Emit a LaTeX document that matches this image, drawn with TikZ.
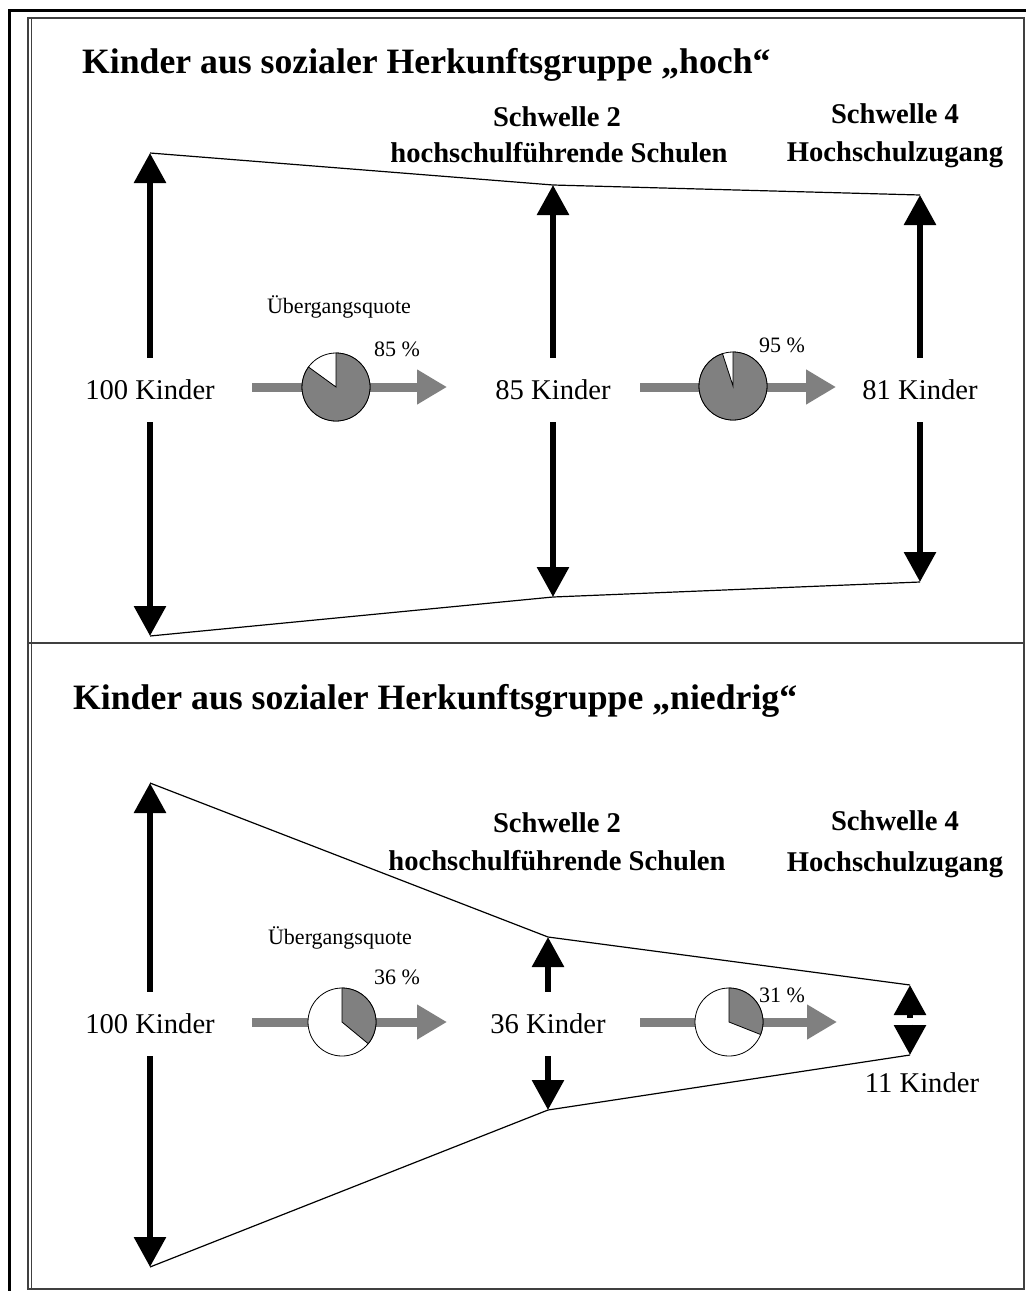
\documentclass[tikz,border=0pt]{standalone}
\usepackage{fontspec}
\setmainfont{Liberation Serif}
\usetikzlibrary{arrows.meta}
\definecolor{flowgray}{RGB}{128,128,128}
\definecolor{framegray}{RGB}{64,64,64}
\begin{document}
\begin{tikzpicture}[x=1pt,y=-1pt,
  heading/.style={anchor=base west, inner sep=0pt, font=\fontsize{35.7}{40}\selectfont\bfseries},
  schwelle/.style={anchor=base, inner sep=0pt, font=\fontsize{28.6}{34}\selectfont\bfseries},
  kinder/.style={inner xsep=4pt, inner ysep=22pt, font=\fontsize{28.6}{34}\selectfont},
  quotelabel/.style={anchor=base, inner sep=0pt, font=\fontsize{22}{26}\selectfont},
  bigarrow/.style={line width=6pt, -{Triangle[length=30pt,width=31pt]}},
  flowarrow/.style={line width=9pt, draw=flowgray, -{Triangle[length=30pt,width=33pt]}},
  piecircle/.style={circle, draw=black, fill=white, line width=0.8pt, minimum size=68pt, inner sep=0pt},
  piepart/.style={fill=flowgray, draw=black, line width=0.8pt},
  funnel/.style={line width=1.2pt},
  panelframe/.style={draw=framegray, line width=1.5pt}]
\useasboundingbox (0,0) rectangle (1026,1291);
\draw[line width=3pt] (9,1291) -- (9,10) -- (1026,10);
\draw[panelframe] (28,18) rectangle (1024,1289);
\draw[panelframe, line width=1pt] (31,18) -- (31,1289);
\draw[panelframe] (28,643) -- (1024,643);

\node[heading] (htitle) at (82,73) {Kinder aus sozialer Herkunftsgruppe „hoch“};
\node[schwelle] (hS2a) at (557,126) {Schwelle 2};
\node[schwelle] (hS2b) at (559,162) {hochschulführende Schulen};
\node[schwelle] (hS4a) at (895,123) {Schwelle 4};
\node[schwelle] (hS4b) at (895,161) {Hochschulzugang};

\coordinate (hL1) at (150,153);
\coordinate (hL2) at (150,636);
\coordinate (hM1) at (553,185);
\coordinate (hM2) at (553,597);
\coordinate (hR1) at (920,195);
\coordinate (hR2) at (920,582);
\draw[funnel] (hL1) -- (hM1) -- (hR1);
\draw[funnel] (hL2) -- (hM2) -- (hR2);

\node[kinder] (h100) at (150,390) {100 Kinder};
\node[kinder] (h85) at (553,390) {85 Kinder};
\node[kinder] (h81) at (920,390) {81 Kinder};
\draw[bigarrow] (h100) -- (hL1);
\draw[bigarrow] (h100) -- (hL2);
\draw[bigarrow] (h85) -- (hM1);
\draw[bigarrow] (h85) -- (hM2);
\draw[bigarrow] (h81) -- (hR1);
\draw[bigarrow] (h81) -- (hR2);

\coordinate (hq1a) at (252,387);
\coordinate (hq1b) at (447,387);
\coordinate (hq2a) at (640,387);
\coordinate (hq2b) at (836,387);
\draw[flowarrow] (hq1a) -- (hq1b);
\draw[flowarrow] (hq2a) -- (hq2b);
\node[piecircle] (hp1) at (336,387) {};
\filldraw[piepart] (hp1.center) -- ++(90:34pt) arc[start angle=90, end angle=-216, radius=34pt] -- cycle;
\node[piecircle] (hp2) at (733,386) {};
\filldraw[piepart] (hp2.center) -- ++(90:34pt) arc[start angle=90, end angle=-252, radius=34pt] -- cycle;
\node[quotelabel] (hqt) at (339,313) {Übergangsquote};
\node[quotelabel] (hpc1) at (397,356) {85 \%};
\node[quotelabel] (hpc2) at (782,352) {95 \%};

\node[heading] (ntitle) at (73,709) {Kinder aus sozialer Herkunftsgruppe „niedrig“};
\node[schwelle] (nS2a) at (557,832) {Schwelle 2};
\node[schwelle] (nS2b) at (557,870) {hochschulführende Schulen};
\node[schwelle] (nS4a) at (895,830) {Schwelle 4};
\node[schwelle] (nS4b) at (895,871) {Hochschulzugang};

\coordinate (nL1) at (150,783);
\coordinate (nL2) at (150,1267);
\coordinate (nM1) at (548,937);
\coordinate (nM2) at (548,1110);
\coordinate (nR1) at (910,985);
\coordinate (nR2) at (910,1055);
\coordinate (nR) at (910,1021);
\draw[funnel] (nL1) -- (nM1) -- (nR1);
\draw[funnel] (nL2) -- (nM2) -- (nR2);

\node[kinder] (n100) at (150,1024) {100 Kinder};
\node[kinder] (n36) at (548,1024) {36 Kinder};
\node[kinder, anchor=base] (n11) at (922,1092) {11 Kinder};
\draw[bigarrow] (n100) -- (nL1);
\draw[bigarrow] (n100) -- (nL2);
\draw[bigarrow] (n36) -- (nM1);
\draw[bigarrow] (n36) -- (nM2);
\draw[bigarrow, shorten <=3.5pt] (nR) -- (nR1);
\draw[bigarrow, shorten <=3.5pt] (nR) -- (nR2);

\coordinate (nq1a) at (252,1022);
\coordinate (nq1b) at (447,1022);
\coordinate (nq2a) at (640,1022);
\coordinate (nq2b) at (837,1022);
\draw[flowarrow] (nq1a) -- (nq1b);
\draw[flowarrow] (nq2a) -- (nq2b);
\node[piecircle] (np1) at (342,1022) {};
\filldraw[piepart] (np1.center) -- ++(90:34pt) arc[start angle=90, end angle=-39.6, radius=34pt] -- cycle;
\node[piecircle] (np2) at (729,1022) {};
\filldraw[piepart] (np2.center) -- ++(90:34pt) arc[start angle=90, end angle=-21.6, radius=34pt] -- cycle;
\node[quotelabel] (nqt) at (340,944) {Übergangsquote};
\node[quotelabel] (npc1) at (397,984) {36 \%};
\node[quotelabel] (npc2) at (782,1002) {31 \%};
\end{tikzpicture}
\end{document}
